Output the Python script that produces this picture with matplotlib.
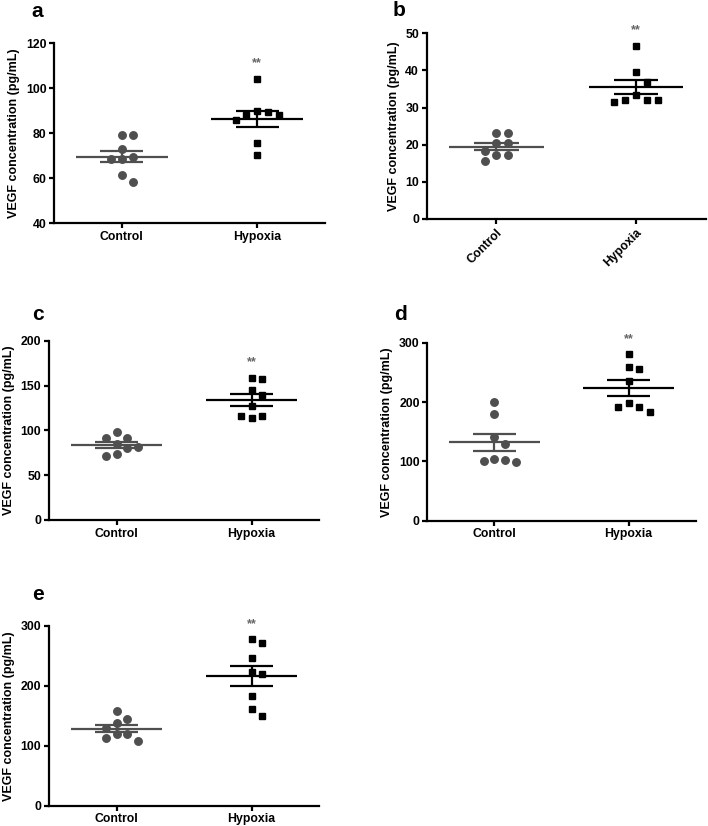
import matplotlib
matplotlib.use('Agg')
import matplotlib.pyplot as plt
import numpy as np

plt.rcParams['font.family'] = ['Liberation Sans', 'DejaVu Sans']
plt.rcParams['font.weight'] = 'bold'

# データ (VEGF, pg/mL)
groups = ['Control', 'Hypoxia']
a_control = [79.1, 79.1, 72.9, 68.3, 68.3, 69.4, 61.3, 58.3]
a_hypoxia = [104.2, 89.8, 89.2, 88.0, 88.0, 85.8, 75.8, 70.2]
b_control = [23.2, 23.2, 20.4, 20.4, 17.3, 17.1, 18.4, 15.7]
b_hypoxia = [46.7, 39.6, 37.0, 33.4, 32.1, 31.5, 32.1, 32.1]
c_control = [98.7, 92.0, 92.0, 84.9, 80.0, 81.9, 71.5, 73.4]
c_hypoxia = [159.0, 157.2, 145.3, 139.7, 127.4, 116.6, 116.6, 113.6]
d_control = [199.4, 180.3, 140.4, 129.2, 102.2, 99.4, 100.6, 103.4]
d_hypoxia = [280.3, 259.6, 255.1, 236.0, 191.0, 191.0, 197.8, 183.1]
e_control = [157.8, 137.2, 144.4, 128.9, 118.9, 119.4, 112.2, 108.3]
e_hypoxia = [277.8, 270.6, 246.7, 222.8, 218.9, 182.8, 161.1, 150.0]

a_yticks = [40, 60, 80, 100, 120]
b_yticks = [0, 10, 20, 30, 40, 50]
c_yticks = [0, 50, 100, 150, 200]
d_yticks = [0, 100, 200, 300]
e_yticks = [0, 100, 200, 300]

ylabel = 'VEGF concentration (pg/mL)'
gray = '#4f4f4f'


def swarm(vals, ylim, ax_h_px, step=0.08, diam_px=10.0):
    # 点が重ならないように横にずらす（離散的な列）
    scale = ax_h_px / (ylim[1] - ylim[0])
    order = np.argsort(vals)[::-1]
    placed = []
    offs = np.zeros(len(vals))
    cands = [0, 1, -1, 2, -2, 3, -3]
    for i in order:
        y = vals[i]
        for c in cands:
            if all(abs(y - py) * scale >= diam_px for pc, py in placed if pc == c):
                offs[i] = c * step
                placed.append((c, y))
                break
    return offs


def panel(rect, letter, letter_xy, ctrl, hyp, yticks, rotate=False):
    ax = fig.add_axes(rect)
    ylim = (yticks[0], yticks[-1])
    ax_h_px = rect[3] * 826
    for i, (vals, color, marker) in enumerate([(ctrl, gray, 'o'), (hyp, 'black', 's')]):
        vals = np.array(vals)
        xs = i + swarm(vals, ylim, ax_h_px)
        ax.plot(xs, vals, linestyle='none', marker=marker, color=color,
                markersize=5.4 if marker == 'o' else 5.0, zorder=2)
        m = vals.mean()
        sem = vals.std(ddof=1) / np.sqrt(len(vals))
        ax.hlines(m, i - 0.34, i + 0.34, color=color, lw=1.6, zorder=3)
        ax.hlines([m - sem, m + sem], i - 0.16, i + 0.16, color=color, lw=1.6, zorder=3)
        ax.vlines(i, m - sem, m + sem, color=color, lw=1.6, zorder=3)
    rng = ylim[1] - ylim[0]
    ax.text(1, max(hyp) + 0.085 * rng, '**', ha='center', va='center',
            fontsize=9, color='#666666', clip_on=False)
    ax.set_xlim(-0.5, 1.5)
    ax.set_ylim(*ylim)
    ax.set_yticks(yticks)
    ax.set_xticks([0, 1])
    if rotate:
        ax.set_xticklabels(groups, rotation=45, ha='right', rotation_mode='anchor')
    else:
        ax.set_xticklabels(groups)
    ax.set_ylabel(ylabel, fontsize=9, fontweight='bold', labelpad=4)
    for s in ['top', 'right']:
        ax.spines[s].set_visible(False)
    for s in ['left', 'bottom']:
        ax.spines[s].set_linewidth(1.6)
    ax.tick_params(width=1.6, length=3.5, labelsize=8.8, pad=2)
    for lab in ax.get_xticklabels() + ax.get_yticklabels():
        lab.set_fontweight('bold')
    fig.text(letter_xy[0] / 708, 1 - letter_xy[1] / 826, letter,
             fontsize=15, fontweight='bold', va='baseline')
    return ax


fig = plt.figure(figsize=(7.08, 8.26), dpi=100)

panel([0.0763, 0.730, 0.3828, 0.2176], 'a', (31, 17), a_control, a_hypoxia, a_yticks)
panel([0.6027, 0.7349, 0.394, 0.2248], 'b', (393, 16), b_control, b_hypoxia, b_yticks, rotate=True)
panel([0.0692, 0.3705, 0.3814, 0.2167], 'c', (32, 320), c_control, c_hypoxia, c_yticks)
panel([0.6035, 0.3696, 0.379, 0.2155], 'd', (394, 320), d_control, d_hypoxia, d_yticks)
panel([0.0692, 0.0246, 0.3814, 0.2179], 'e', (32, 600), e_control, e_hypoxia, e_yticks)

fig.savefig('out.png', dpi=100)
plt.close()
